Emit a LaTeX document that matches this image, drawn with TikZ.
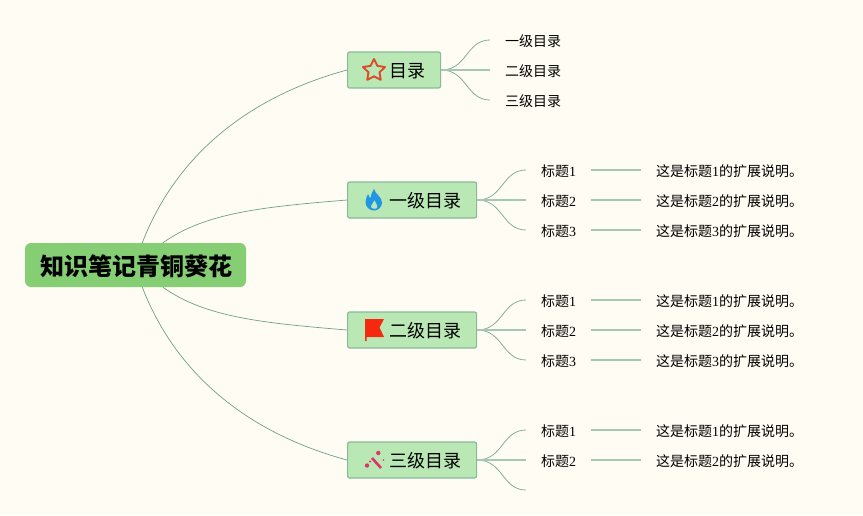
\documentclass[tikz,border=0pt]{standalone}
\usepackage{fontspec}
\setmainfont{Noto Sans CJK SC}
\newfontfamily\digitfont{Liberation Serif}
\usetikzlibrary{positioning}
\definecolor{paper}{HTML}{FFFDF3}
\definecolor{rootgreen}{HTML}{85CE74}
\definecolor{leafgreen}{HTML}{B9E8B4}
\definecolor{edgegreen}{HTML}{86BA9A}
\definecolor{wiregreen}{HTML}{6F9F86}
\definecolor{twiggreen}{HTML}{86AF98}
\definecolor{stemgreen}{HTML}{A5C8B2}
\definecolor{starred}{HTML}{DB4B2B}
\definecolor{flameblue}{HTML}{2196E3}
\definecolor{flagred}{HTML}{F5290F}
\definecolor{wandpink}{HTML}{E0336A}
\newcommand{\dg}[1]{{\digitfont #1}}
\begin{document}
\begin{tikzpicture}[x=1pt,y=-1pt]
	\def \rowa{70}
	\def \rowb{200}
	\def \rowc{330}
	\def \rowd{460}

	\tikzstyle{root-node}=[rectangle,rounded corners=6pt,fill=rootgreen,inner sep=0pt,minimum width=221pt,minimum height=44pt,text height=24pt,text depth=3pt,font=\fontsize{24}{28}\selectfont\bfseries]
	\tikzstyle{main-node}=[rectangle,rounded corners=2pt,draw=edgegreen,fill=leafgreen,line width=1.2pt,inner xsep=15pt,inner ysep=0pt,minimum height=36pt,text height=18pt,text depth=2.3pt,anchor=west,font=\fontsize{18}{22}\selectfont]
	\tikzstyle{sub-node}=[inner xsep=15pt,inner ysep=0pt,text height=14pt,text depth=1.4pt,anchor=west,font=\fontsize{14}{18}\selectfont]
	\tikzstyle{wire}=[draw=wiregreen,line width=0.7pt]
	\tikzstyle{twig}=[draw=twiggreen,line width=0.8pt]
	\tikzstyle{stem}=[draw=stemgreen,line width=1.4pt]
	\tikzset{bend-s/.style={to path={.. controls +(26,0) and +(-24,0) .. (\tikztotarget)}}}

	\fill[paper] (0,0) rectangle (863,515);

	\node[root-node] (root) at (135.5,265) {\hspace*{2pt}知识笔记青铜葵花};

	% main topics
	\node[main-node] (m0) at (347,\rowa) {\hspace*{27pt}目录};
	\node[main-node] (m1) at (347,\rowb) {\hspace*{27pt}一级目录};
	\node[main-node] (m2) at (347,\rowc) {\hspace*{27pt}二级目录};
	\node[main-node] (m3) at (347,\rowd) {\hspace*{27pt}三级目录};

	% first topic
	\node[sub-node] (s00) at (490,\rowa-30) {一级目录};
	\node[sub-node] (s01) at (490,\rowa)    {二级目录};
	\node[sub-node] (s02) at (490,\rowa+30) {三级目录};

	% second topic
	\node[sub-node] (s10) at (526,\rowb-30) {标题\dg{1}};
	\node[sub-node] (s11) at (526,\rowb)    {标题\dg{2}};
	\node[sub-node] (s12) at (526,\rowb+30) {标题\dg{3}};
	\node[sub-node] (e10) at (641,\rowb-30) {这是标题\dg{1}的扩展说明。};
	\node[sub-node] (e11) at (641,\rowb)    {这是标题\dg{2}的扩展说明。};
	\node[sub-node] (e12) at (641,\rowb+30) {这是标题\dg{3}的扩展说明。};

	% third topic
	\node[sub-node] (s20) at (526,\rowc-30) {标题\dg{1}};
	\node[sub-node] (s21) at (526,\rowc)    {标题\dg{2}};
	\node[sub-node] (s22) at (526,\rowc+30) {标题\dg{3}};
	\node[sub-node] (e20) at (641,\rowc-30) {这是标题\dg{1}的扩展说明。};
	\node[sub-node] (e21) at (641,\rowc)    {这是标题\dg{2}的扩展说明。};
	\node[sub-node] (e22) at (641,\rowc+30) {这是标题\dg{3}的扩展说明。};

	% fourth topic
	\node[sub-node] (s30) at (526,\rowd-30) {标题\dg{1}};
	\node[sub-node] (s31) at (526,\rowd)    {标题\dg{2}};
	\coordinate (s32) at (526,\rowd+30);
	\node[sub-node] (e30) at (641,\rowd-30) {这是标题\dg{1}的扩展说明。};
	\node[sub-node] (e31) at (641,\rowd)    {这是标题\dg{2}的扩展说明。};

	% from the root
	\draw[wire] (root.73.5) .. controls +(36,-93) and +(-92,25) .. (m0.west);
	\draw[wire] (root.39.7) .. controls +(42,-30) and +(-85,7) .. (m1.west);
	\draw[wire] (root.-39.7) .. controls +(42,30) and +(-85,-7) .. (m2.west);
	\draw[wire] (root.-73.5) .. controls +(36,93) and +(-92,-25) .. (m3.west);

	% to the sub topics
	\path[twig]
		(m0.east) edge[bend-s] (s00.west)
		(m0.east) edge[bend-s] (s02.west)
		%
		(m1.east) edge[bend-s] (s10.west)
		(m1.east) edge[bend-s] (s12.west)
		%
		(m2.east) edge[bend-s] (s20.west)
		(m2.east) edge[bend-s] (s22.west)
		%
		(m3.east) edge[bend-s] (s30.west)
		(m3.east) edge[bend-s] (s32);

	\path[stem]
		(m0.east) edge (s01.west)
		(m1.east) edge (s11.west)
		(m2.east) edge (s21.west)
		(m3.east) edge (s31.west)
		%
		(s10.east) edge (e10.west)
		(s11.east) edge (e11.west)
		(s12.east) edge (e12.west)
		(s20.east) edge (e20.west)
		(s21.east) edge (e21.west)
		(s22.east) edge (e22.west)
		(s30.east) edge (e30.west)
		(s31.east) edge (e31.west);

	% star
	\draw[starred,line width=1.9pt,line join=round,shift={(374,70.5)}]
		(0,-11.5) -- (3.4,-4.6) -- (11,-3.5) -- (5.5,1.8) -- (6.8,9.4) -- (0,5.8)
		-- (-6.8,9.4) -- (-5.5,1.8) -- (-11,-3.5) -- (-3.4,-4.6) -- cycle;

	% flame
	\fill[flameblue,shift={(374,200)},even odd rule]
		(0,-11) .. controls (1,-6) and (8.5,-3) .. (8,3)
		.. controls (7.5,8) and (3.5,10.5) .. (0,10.5)
		.. controls (-4.5,10.5) and (-8.5,7) .. (-8.5,2)
		.. controls (-8.5,-1) and (-7,-3) .. (-6,-6)
		.. controls (-5,-3.5) and (-4.5,-2.5) .. (-3.5,-2)
		.. controls (-3,-5) and (-2,-8) .. (0,-11) -- cycle
		(0.5,0) .. controls (1,3) and (4,4) .. (3.5,7)
		.. controls (3,9.5) and (-2,9.5) .. (-3,7)
		.. controls (-3.5,5) and (-0.5,3) .. (0.5,0) -- cycle;

	% flag
	\fill[flagred,shift={(374,330)}]
		(-9,-11) -- (10,-11) -- (5.5,-2.5) -- (10,7) -- (-7.5,7) -- (-7.5,11) -- (-9,11) -- cycle;

	% wand
	\draw[wandpink,line width=2.6pt,shift={(374,460)}] (-2,-2) -- (7,8);
	\fill[wandpink,shift={(374,460)}] (4.3,-7) circle (2.2pt) (-7,5.5) circle (2.2pt) (-4,1.5) circle (1.2pt) (9.5,0) circle (0.9pt);
\end{tikzpicture}
\end{document}
